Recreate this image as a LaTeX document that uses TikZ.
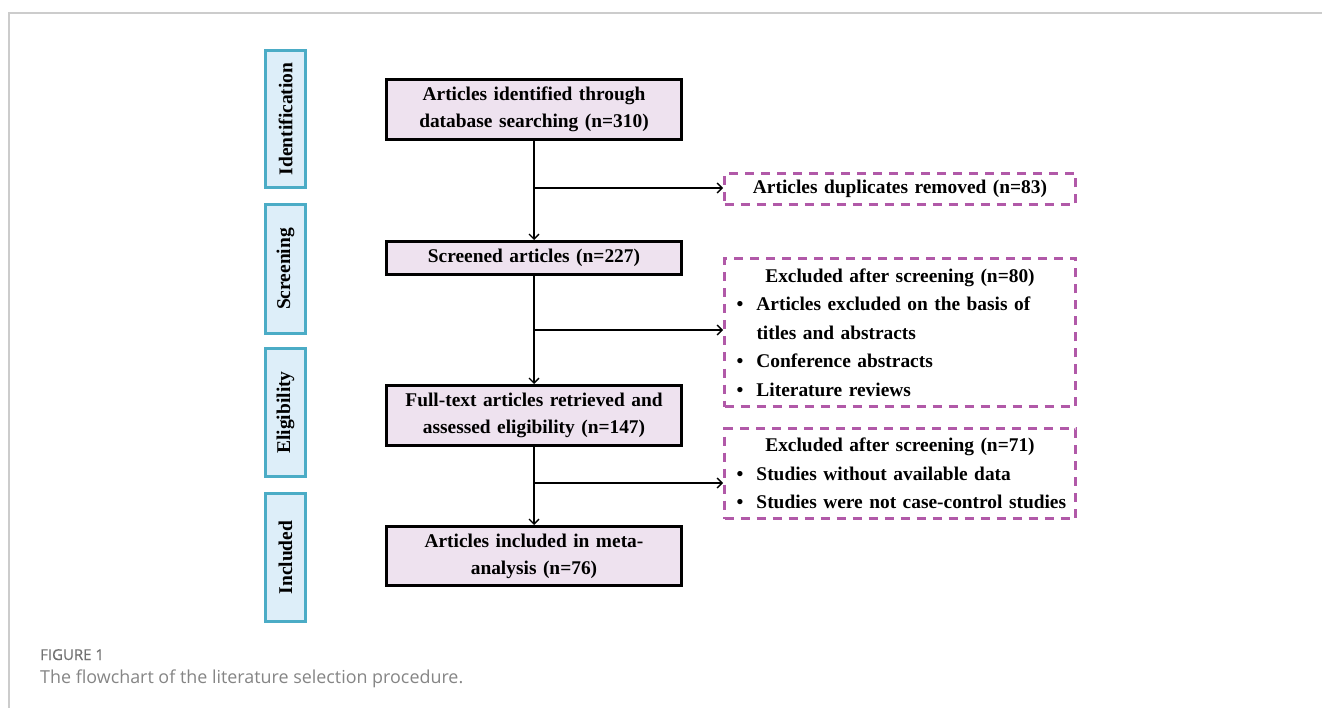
\documentclass[tikz,border=0pt]{standalone}
\usepackage{fontspec}
\setmainfont{Liberation Serif}
\newfontfamily\capfont{Open Sans}
\newfontfamily\capfontsemi[FakeBold=0.6]{Open Sans}
\usetikzlibrary{arrows.meta}

\definecolor{stageblue}{HTML}{4BACC6}
\definecolor{stagefill}{HTML}{DDEEF9}
\definecolor{mainfill}{HTML}{EEE2EF}
\definecolor{exclpurple}{HTML}{B159A8}
\definecolor{framegray}{HTML}{CCCCCC}
\definecolor{capgray}{HTML}{858585}

\newcommand{\bitem}[1]{\par\noindent\makebox[20pt][l]{\textbullet}\mbox{#1}}
\newcommand{\bcont}[1]{\par\noindent\hspace*{20pt}\mbox{#1}}

\begin{document}
\begin{tikzpicture}[x=1pt,y=-1pt,
  stage/.style={draw=stageblue,fill=stagefill,line width=3pt,rotate=90,
    minimum height=40pt,inner sep=0pt,font=\bfseries\fontsize{19.5}{22}\selectfont},
  mainbox/.style={draw=black,fill=mainfill,line width=3pt,text width=285pt,
    inner xsep=5pt,inner ysep=0pt,align=center,font=\bfseries\fontsize{19.4}{27}\selectfont},
  exclbox/.style={draw=exclpurple,line width=3pt,dash pattern=on 9pt off 7pt,
    text width=327pt,inner xsep=12pt,inner ysep=0pt,font=\bfseries\fontsize{19.4}{28.5}\selectfont},
  flow/.style={line width=1.3pt,-{Straight Barb[length=5pt,width=10pt]}}]

  \useasboundingbox (0,0) rectangle (1322,708);

  % Frame
  \draw[framegray,line width=1.2pt] (9,708) -- (9,13) -- (1322,13);

  % Stages
  \node[stage,minimum width=137pt] (ident) at (285.5,119) {Identification};
  \node[stage,minimum width=129pt] (screen) at (285.5,269) {Screening};
  \node[stage,minimum width=128pt] (elig) at (285.5,412.5) {Eligibility};
  \node[stage,minimum width=128pt] (incl) at (285.5,557.5) {Included};

  % Main boxes
  \node[mainbox,minimum height=60pt] (found) at (534,109.5)
    {Articles identified through\\ database searching (n=310)};
  \node[mainbox,minimum height=33pt] (screened) at (534,258)
    {Screened articles (n=227)};
  \node[mainbox,minimum height=60pt] (fulltext) at (534,415.5)
    {Full-text articles retrieved and\\ assessed eligibility (n=147)};
  \node[mainbox,minimum height=59pt] (meta) at (534,556)
    {Articles included in meta-\\ analysis (n=76)};

  % Excluded boxes
  \node[exclbox,minimum height=31pt,align=center] (dupl) at (900,189)
    {Articles duplicates removed (n=83)};
  \node[exclbox,minimum height=148pt] (excl1) at (900,332.5)
    {\makebox[\linewidth]{Excluded after screening (n=80)}%
     \bitem{Articles excluded on the basis of}%
     \bcont{titles and abstracts}%
     \bitem{Conference abstracts}%
     \bitem{Literature reviews}};
  \node[exclbox,minimum height=90pt] (excl2) at (900,473.5)
    {\makebox[\linewidth]{Excluded after screening (n=71)}%
     \bitem{Studies without available data}%
     \bitem{Studies were not case-control studies}};

  % Branch points
  \coordinate (br1) at (534,188);
  \coordinate (br2) at (534,330);
  \coordinate (br3) at (534,483);

  % Connectors
  \draw[flow] (found) -- (screened);
  \draw[flow] (screened) -- (fulltext);
  \draw[flow] (fulltext) -- (meta);
  \draw[flow] (br1) -- (br1 -| dupl.west);
  \draw[flow] (br2) -- (br2 -| excl1.west);
  \draw[flow] (br3) -- (br3 -| excl2.west);

  % Caption
  \node[anchor=base west,inner sep=0pt,text=capgray!85!black,font=\capfontsemi\fontsize{15}{18}\selectfont]
    (figno) at (40,660) {FIGURE 1};
  \node[anchor=base west,inner sep=0pt,text=capgray,font=\capfont\fontsize{17.9}{20}\selectfont]
    (captxt) at (40,683) {The flowchart of the literature selection procedure.};

\end{tikzpicture}
\end{document}
